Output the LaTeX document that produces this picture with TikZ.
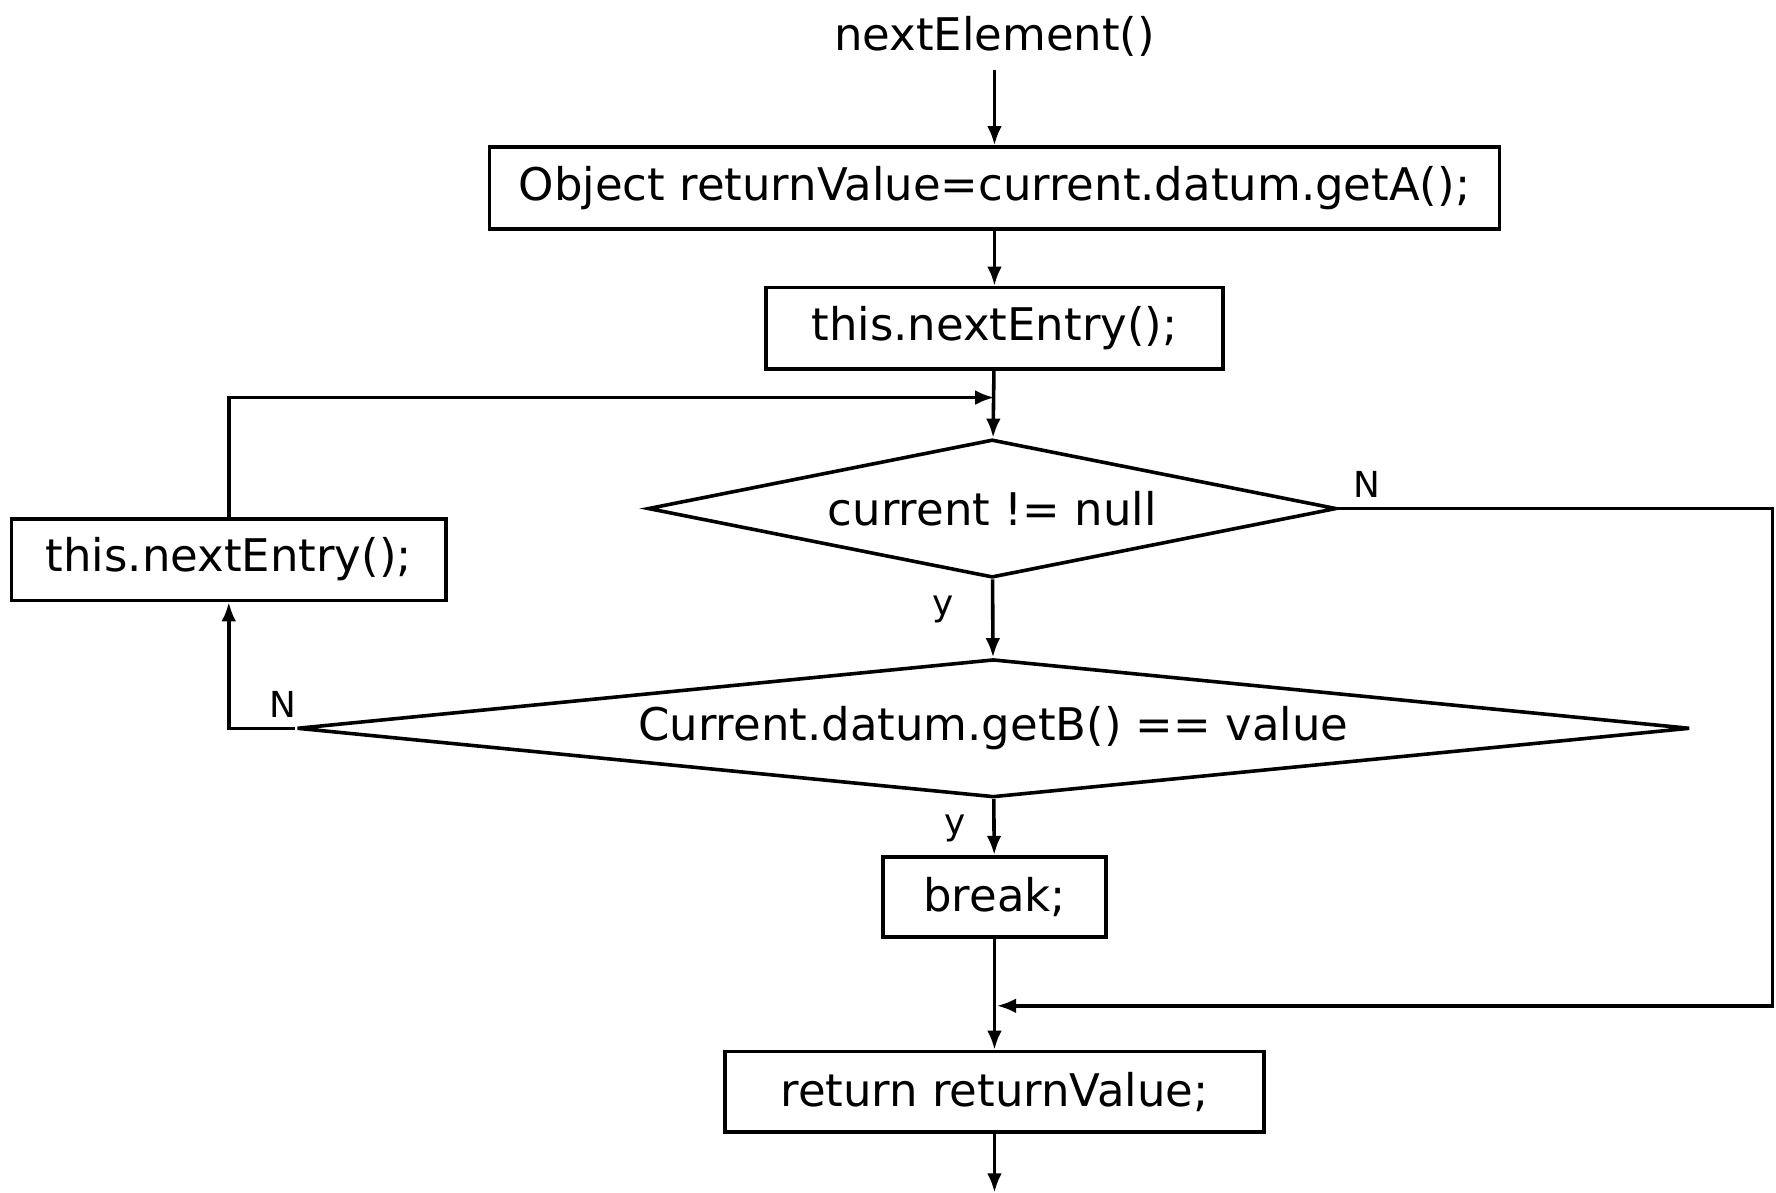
\documentclass[tikz,border=0pt]{standalone}
\usepackage{fontspec}
\setmainfont{DejaVu Sans}
\usetikzlibrary{arrows.meta}
\usetikzlibrary{shapes.geometric}

\begin{document}
\begin{tikzpicture}[x=0.02cm, y=-0.02cm,
    line width=1.8pt,
    >={Latex[length=3.4mm,width=2.6mm]},
    every node/.style={font=\fontsize{22.6}{26}\selectfont},
    box/.style={draw, rectangle, inner sep=0pt},
    cond/.style={draw, diamond, inner sep=0pt, aspect=5},
    lab/.style={font=\fontsize{18}{20}\selectfont},
]
    \def\U{0.02cm}
    \useasboundingbox (0,0) rectangle (1568,1053);
    % 主干上的各个结点
    \node (title) [inner sep=0pt, minimum height=56*\U] at (878,32) {nextElement()};
    \node (obj) [box, minimum width=892*\U, minimum height=72*\U] at (878,166) {Object returnValue=current.datum.getA();};
    \node (nxt) [box, minimum width=403*\U, minimum height=72*\U] at (878,290) {this.nextEntry();};
    \node (test) [cond, minimum width=608*\U, minimum height=122*\U] at (876,449) {current != null};
    \node (match) [cond, aspect=10, minimum width=1230*\U, minimum height=122*\U] at (877,643) {Current.datum.getB() == value};
    \node (again) [box, minimum width=384*\U, minimum height=72*\U] at (202,494) {this.nextEntry();};
    \node (brk) [box, minimum width=197*\U, minimum height=71*\U] at (878,792) {break;};
    \node (ret) [box, minimum width=476*\U, minimum height=71*\U] at (878,964) {return returnValue;};
    % 使用 coordinate 标记连线的汇合点
    \coordinate (join) at (878,351);
    \coordinate (corner) at (1565,888);
    \coordinate (merge) at (880,888);
    \coordinate (out) at (878,1053);

    \draw[->] (title) -- (obj);
    \draw[->] (obj) -- (nxt);
    \draw[->] (nxt) -- (test);
    \draw[->] (again.north) |- (join);
    \draw[->] (test) -- (match);
    \draw[->] (test.east) -| (corner) -- (merge);
    \draw[->] (match.west) -| (again.south);
    \draw[->] (match) -- (brk);
    \draw[->] (brk) -- (ret);
    \draw[->] (ret) -- (out);

    \node (n1) [lab] at (1207,428) {N};
    \node (n2) [lab] at (250,622) {N};
    \node (y1) [lab] at (833,538) {y};
    \node (y2) [lab] at (843,731) {y};
\end{tikzpicture}
\end{document}
